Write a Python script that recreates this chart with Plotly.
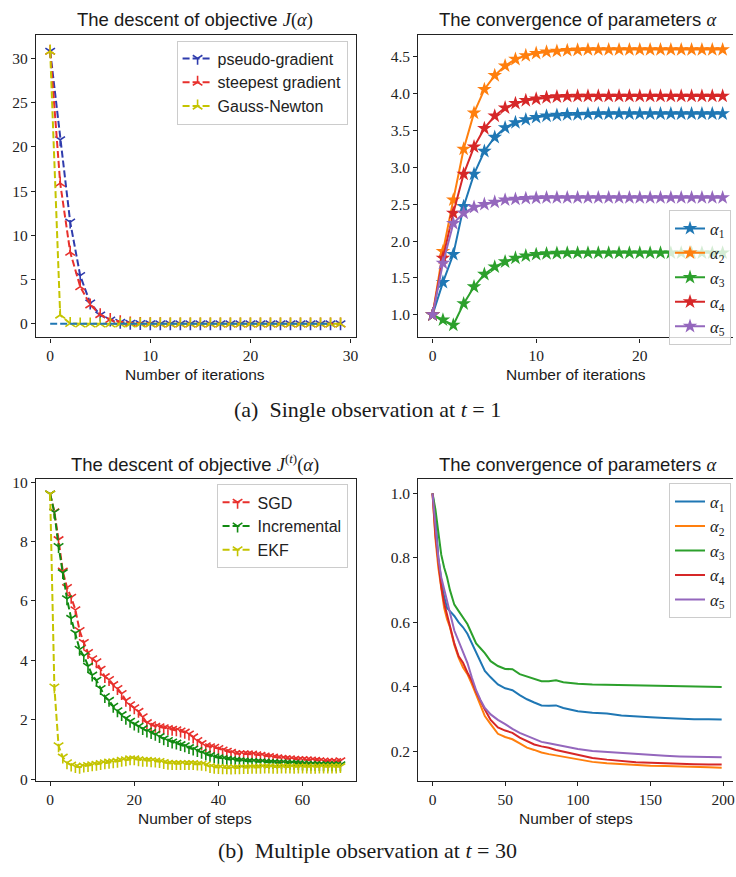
import plotly.graph_objects as go

# ---------------- data ----------------
# (a) single observation: objective descent per iteration
iters_a = list(range(30))
pseudo_gradient = [30.8, 20.8, 11.5, 5.45, 2.35, 1.0, 0.42, 0.17, 0.07, 0.03,
                   0.01, 0.0, 0.0, 0.0, 0.0, 0.0, 0.0, 0.0, 0.0, 0.0,
                   0.0, 0.0, 0.0, 0.0, 0.0, 0.0, 0.0, 0.0, 0.0, 0.0]
steepest_gradient = [30.8, 15.9, 8.1, 4.2, 2.15, 1.05, 0.5, 0.25, 0.12, 0.06,
                     0.03, 0.01, 0.0, 0.0, 0.0, 0.0, 0.0, 0.0, 0.0, 0.0,
                     0.0, 0.0, 0.0, 0.0, 0.0, 0.0, 0.0, 0.0, 0.0, 0.0]
gauss_newton = [30.8, 1.0, 0.05, 0.0, 0.0, 0.0, 0.0, 0.0, 0.0, 0.0,
                0.0, 0.0, 0.0, 0.0, 0.0, 0.0, 0.0, 0.0, 0.0, 0.0,
                0.0, 0.0, 0.0, 0.0, 0.0, 0.0, 0.0, 0.0, 0.0, 0.0]
zero_iters = list(range(29))
zero_level = [0.0] * 29

# (a) parameter trajectories per iteration
iters_p = list(range(29))
alpha1_a = [1.0, 1.44, 1.82, 2.47, 2.91, 3.22, 3.41, 3.54, 3.61, 3.65, 3.68, 3.70, 3.71, 3.72, 3.72,
            3.725, 3.73, 3.73, 3.73, 3.73, 3.73, 3.73, 3.73, 3.73, 3.73, 3.73, 3.73, 3.73, 3.73]
alpha2_a = [1.0, 1.86, 2.56, 3.25, 3.74, 4.06, 4.25, 4.38, 4.47, 4.52, 4.55, 4.57, 4.58, 4.59, 4.595,
            4.6, 4.6, 4.6, 4.6, 4.6, 4.6, 4.6, 4.6, 4.6, 4.6, 4.6, 4.6, 4.6, 4.6]
alpha3_a = [1.0, 0.93, 0.86, 1.15, 1.38, 1.55, 1.65, 1.72, 1.77, 1.80, 1.82, 1.83, 1.835, 1.84, 1.84,
            1.84, 1.84, 1.84, 1.84, 1.84, 1.84, 1.84, 1.84, 1.84, 1.84, 1.84, 1.84, 1.84, 1.84]
alpha4_a = [1.0, 1.77, 2.38, 2.91, 3.28, 3.53, 3.70, 3.81, 3.87, 3.91, 3.93, 3.95, 3.96, 3.965, 3.97,
            3.97, 3.97, 3.97, 3.97, 3.97, 3.97, 3.97, 3.97, 3.97, 3.97, 3.97, 3.97, 3.97, 3.97]
alpha5_a = [1.0, 1.70, 2.24, 2.38, 2.46, 2.50, 2.53, 2.56, 2.57, 2.58, 2.585, 2.59, 2.59, 2.59, 2.59,
            2.59, 2.59, 2.59, 2.59, 2.59, 2.59, 2.59, 2.59, 2.59, 2.59, 2.59, 2.59, 2.59, 2.59]

# (b) multiple observations: objective descent per step
steps_b = list(range(70))
sgd = [9.60, 9.00, 8.06, 7.00, 6.45, 6.12, 5.70, 5.00, 4.60, 4.26,
       4.05, 3.95, 3.70, 3.45, 3.35, 3.18, 3.05, 2.88, 2.65, 2.50,
       2.40, 2.28, 2.10, 1.90, 1.83, 1.78, 1.76, 1.73, 1.70, 1.68,
       1.66, 1.62, 1.58, 1.52, 1.42, 1.30, 1.20, 1.12, 1.09, 1.07,
       1.03, 0.98, 0.94, 0.90, 0.86, 0.85, 0.85, 0.85, 0.84, 0.82,
       0.80, 0.78, 0.76, 0.74, 0.72, 0.70, 0.69, 0.68, 0.67, 0.66,
       0.66, 0.65, 0.64, 0.63, 0.62, 0.61, 0.60, 0.59, 0.59, 0.62]
incremental = [9.60, 8.98, 7.83, 6.95, 6.07, 5.41, 4.92, 4.37, 4.15, 3.80,
               3.50, 3.33, 3.05, 2.78, 2.65, 2.45, 2.30, 2.17, 2.05, 1.95,
               1.85, 1.78, 1.70, 1.62, 1.57, 1.51, 1.43, 1.36, 1.30, 1.25,
               1.21, 1.16, 1.12, 1.06, 1.01, 0.96, 0.90, 0.84, 0.79, 0.75,
               0.72, 0.69, 0.67, 0.65, 0.63, 0.62, 0.61, 0.60, 0.59, 0.58,
               0.58, 0.57, 0.56, 0.56, 0.55, 0.55, 0.54, 0.53, 0.53, 0.52,
               0.51, 0.50, 0.50, 0.49, 0.49, 0.48, 0.48, 0.48, 0.48, 0.48]
ekf = [9.60, 3.10, 1.12, 0.74, 0.55, 0.47, 0.42, 0.40, 0.44, 0.46,
       0.48, 0.50, 0.52, 0.55, 0.57, 0.58, 0.60, 0.63, 0.65, 0.68,
       0.68, 0.65, 0.63, 0.63, 0.62, 0.61, 0.59, 0.56, 0.53, 0.52,
       0.52, 0.52, 0.52, 0.52, 0.52, 0.51, 0.50, 0.48, 0.42, 0.40,
       0.39, 0.38, 0.38, 0.37, 0.38, 0.38, 0.39, 0.39, 0.40, 0.40,
       0.40, 0.41, 0.41, 0.40, 0.40, 0.41, 0.41, 0.41, 0.40, 0.41,
       0.41, 0.41, 0.40, 0.40, 0.41, 0.41, 0.41, 0.41, 0.41, 0.42]

# (b) parameter trajectories per step
steps_p = [0, 2, 4, 6, 8, 10, 12, 15, 18, 21, 24, 27, 30, 33, 36, 40, 45, 50, 55, 60,
           65, 70, 75, 80, 85, 90, 100, 110, 120, 130, 140, 150, 160, 170, 180, 190, 199]
alpha1_b = [1.0, 0.93, 0.80, 0.73, 0.68, 0.645, 0.635, 0.62, 0.60, 0.585, 0.565, 0.535, 0.505,
            0.475, 0.45, 0.43, 0.408, 0.396, 0.39, 0.375, 0.362, 0.352, 0.343, 0.342, 0.343,
            0.335, 0.325, 0.32, 0.318, 0.312, 0.308, 0.306, 0.304, 0.301, 0.30, 0.30, 0.299]
alpha2_b = [1.0, 0.86, 0.77, 0.70, 0.645, 0.61, 0.585, 0.53, 0.49, 0.46, 0.44, 0.41, 0.375,
            0.34, 0.31, 0.285, 0.255, 0.245, 0.238, 0.225, 0.212, 0.205, 0.197, 0.192, 0.188,
            0.183, 0.175, 0.168, 0.164, 0.161, 0.158, 0.156, 0.155, 0.153, 0.152, 0.151, 0.15]
alpha3_b = [1.0, 0.95, 0.88, 0.81, 0.77, 0.74, 0.70, 0.655, 0.635, 0.615, 0.595, 0.565, 0.535,
            0.52, 0.505, 0.48, 0.465, 0.456, 0.455, 0.44, 0.432, 0.425, 0.418, 0.418, 0.421,
            0.415, 0.41, 0.408, 0.407, 0.405, 0.404, 0.404, 0.403, 0.402, 0.402, 0.401, 0.40]
alpha4_b = [1.0, 0.87, 0.79, 0.71, 0.66, 0.625, 0.59, 0.535, 0.495, 0.475, 0.445, 0.42, 0.385,
            0.355, 0.33, 0.298, 0.275, 0.265, 0.258, 0.243, 0.232, 0.222, 0.216, 0.212, 0.205,
            0.20, 0.188, 0.18, 0.175, 0.17, 0.167, 0.165, 0.163, 0.162, 0.161, 0.16, 0.16]
alpha5_b = [1.0, 0.90, 0.80, 0.74, 0.70, 0.665, 0.63, 0.575, 0.54, 0.51, 0.475, 0.43, 0.39,
            0.36, 0.335, 0.315, 0.298, 0.285, 0.27, 0.258, 0.248, 0.238, 0.23, 0.226, 0.221,
            0.216, 0.208, 0.202, 0.199, 0.195, 0.191, 0.189, 0.187, 0.185, 0.184, 0.183, 0.182]

# ---------------- styling ----------------
W, H = 736, 877
SANS = "Liberation Sans"
SERIF = "Liberation Serif"
TAB = ["#1f77b4", "#ff7f0e", "#2ca02c", "#d62728", "#9467bd"]
BLUE, RED, YEL, GRN = "#2f3cad", "#e8302c", "#c4c400", "#118a11"
DASH = "7px,3px"


def px_x(p):
    return p / W


def px_y(p):
    return 1 - p / H


fig = go.Figure()


def tri_trace(x, y, name, color, symbol, xa, ya, legend, show=True):
    fig.add_trace(go.Scatter(
        x=x, y=y, name=name, mode="lines+markers",
        line=dict(color=color, width=2, dash=DASH),
        marker=dict(symbol=symbol, size=8, color=color, line=dict(width=1.6, color=color)),
        xaxis=xa, yaxis=ya, legend=legend, showlegend=show))


# panel (a) left
tri_trace(iters_a, pseudo_gradient, "pseudo-gradient", BLUE, "y-down", "x", "y", "legend")
tri_trace(iters_a, steepest_gradient, "steepest gradient", RED, "y-up", "x", "y", "legend")
tri_trace(iters_a, gauss_newton, "Gauss-Newton", YEL, "y-up", "x", "y", "legend")
fig.add_trace(go.Scatter(x=zero_iters, y=zero_level, mode="lines", showlegend=False,
                         line=dict(color=TAB[0], width=2, dash=DASH), xaxis="x", yaxis="y"))

# panel (a) right
for i, vals in enumerate([alpha1_a, alpha2_a, alpha3_a, alpha4_a, alpha5_a]):
    fig.add_trace(go.Scatter(
        x=iters_p, y=vals, name=f"<i>α</i><sub>{i + 1}</sub>", mode="lines+markers",
        line=dict(color=TAB[i], width=2),
        marker=dict(symbol="star", size=11, color=TAB[i], line=dict(width=0)),
        xaxis="x2", yaxis="y2", legend="legend2"))

# panel (b) left
tri_trace(steps_b, sgd, "SGD", RED, "y-down", "x3", "y3", "legend3")
tri_trace(steps_b, incremental, "Incremental", GRN, "y-down", "x3", "y3", "legend3")
tri_trace(steps_b, ekf, "EKF", YEL, "y-down", "x3", "y3", "legend3")

# panel (b) right
for i, vals in enumerate([alpha1_b, alpha2_b, alpha3_b, alpha4_b, alpha5_b]):
    fig.add_trace(go.Scatter(
        x=steps_p, y=vals, name=f"<i>α</i><sub>{i + 1}</sub>", mode="lines",
        line=dict(color=TAB[i], width=2),
        xaxis="x4", yaxis="y4", legend="legend4"))

# ---------------- axes ----------------
LEFT_X = [px_x(36), px_x(357)]
RIGHT_X = [px_x(420), 1.0]
TOP_Y = [px_y(336), px_y(29)]
BOT_Y = [px_y(786), px_y(480)]


def axis(domain, rng, anchor, tickvals, fmt=None, mirror=True):
    d = dict(domain=domain, range=rng, anchor=anchor, showgrid=False, zeroline=False,
             showline=True, linecolor="#222", linewidth=1.2, mirror=mirror,
             ticks="outside", ticklen=4, tickwidth=1, tickcolor="#222",
             tickvals=tickvals, tickfont=dict(family=SERIF, size=15.5, color="#222"))
    if fmt:
        d["tickformat"] = fmt
    return d


legend_common = dict(bgcolor="rgba(255,255,255,0.8)", bordercolor="#cccccc", borderwidth=1,
                     xanchor="right", yanchor="top", itemwidth=30, tracegroupgap=0)

fig.update_layout(
    width=W, height=H, margin=dict(l=0, r=0, t=0, b=0),
    paper_bgcolor="white", plot_bgcolor="white",
    xaxis=axis(LEFT_X, [-1.43, 30.5], "y", [0, 10, 20, 30]),
    yaxis=axis(TOP_Y, [-1.53, 32.68], "x", [0, 5, 10, 15, 20, 25, 30]),
    xaxis2=axis(RIGHT_X, [-1.38, 29.0], "y2", [0, 10, 20]),
    yaxis2=axis(TOP_Y, [0.692, 4.804], "x2", [1.0, 1.5, 2.0, 2.5, 3.0, 3.5, 4.0, 4.5], ".1f", mirror=False),
    xaxis3=axis(LEFT_X, [-3.4, 72.6], "y3", [0, 20, 40, 60]),
    yaxis3=axis(BOT_Y, [-0.07, 10.09], "x3", [0, 2, 4, 6, 8, 10]),
    xaxis4=axis(RIGHT_X, [-9.8, 206.8], "y4", [0, 50, 100, 150, 200]),
    yaxis4=axis(BOT_Y, [0.108, 1.043], "x4", [0.2, 0.4, 0.6, 0.8, 1.0], ".1f", mirror=False),
    legend=dict(legend_common, x=px_x(349), y=px_y(35),
                font=dict(family=SANS, size=16, color="#222")),
    legend2=dict(legend_common, x=px_x(734), y=px_y(207),
                 font=dict(family=SERIF, size=16.5, color="#222")),
    legend3=dict(legend_common, x=px_x(349), y=px_y(485),
                 font=dict(family=SANS, size=16, color="#222")),
    legend4=dict(legend_common, x=px_x(734), y=px_y(484),
                 font=dict(family=SERIF, size=16.5, color="#222")),
)

# ---------------- titles and captions ----------------
MATH = f'<span style="font-family:{SERIF}">'


def text(x, y, s, size, family=SANS):
    fig.add_annotation(x=px_x(x), y=px_y(y), xref="paper", yref="paper", text=s,
                       showarrow=False, xanchor="center", yanchor="middle",
                       font=dict(family=family, size=size, color="#1a1a1a"))


text(196, 14, f"The descent of objective {MATH}<i>J</i>(<i>α</i>)</span>", 18.5)
text(580, 14, f"The convergence of parameters {MATH}<i>α</i></span>", 18.5)
text(196, 464, f"The descent of objective {MATH}<i>J</i><sup>(<i>t</i>)</sup>(<i>α</i>)</span>", 18.5)
text(580, 465, f"The convergence of parameters {MATH}<i>α</i></span>", 18.5)

text(196, 374, "Number of iterations", 15.5)
text(578, 374, "Number of iterations", 15.5)
text(196, 824, "Number of steps", 15.5)
text(578, 824, "Number of steps", 15.5)

text(369, 409, "(a)  Single observation at <i>t</i> = 1", 22, SERIF)
text(369, 856, "(b)  Multiple observation at <i>t</i> = 30", 22, SERIF)

fig.write_html("out.html")
